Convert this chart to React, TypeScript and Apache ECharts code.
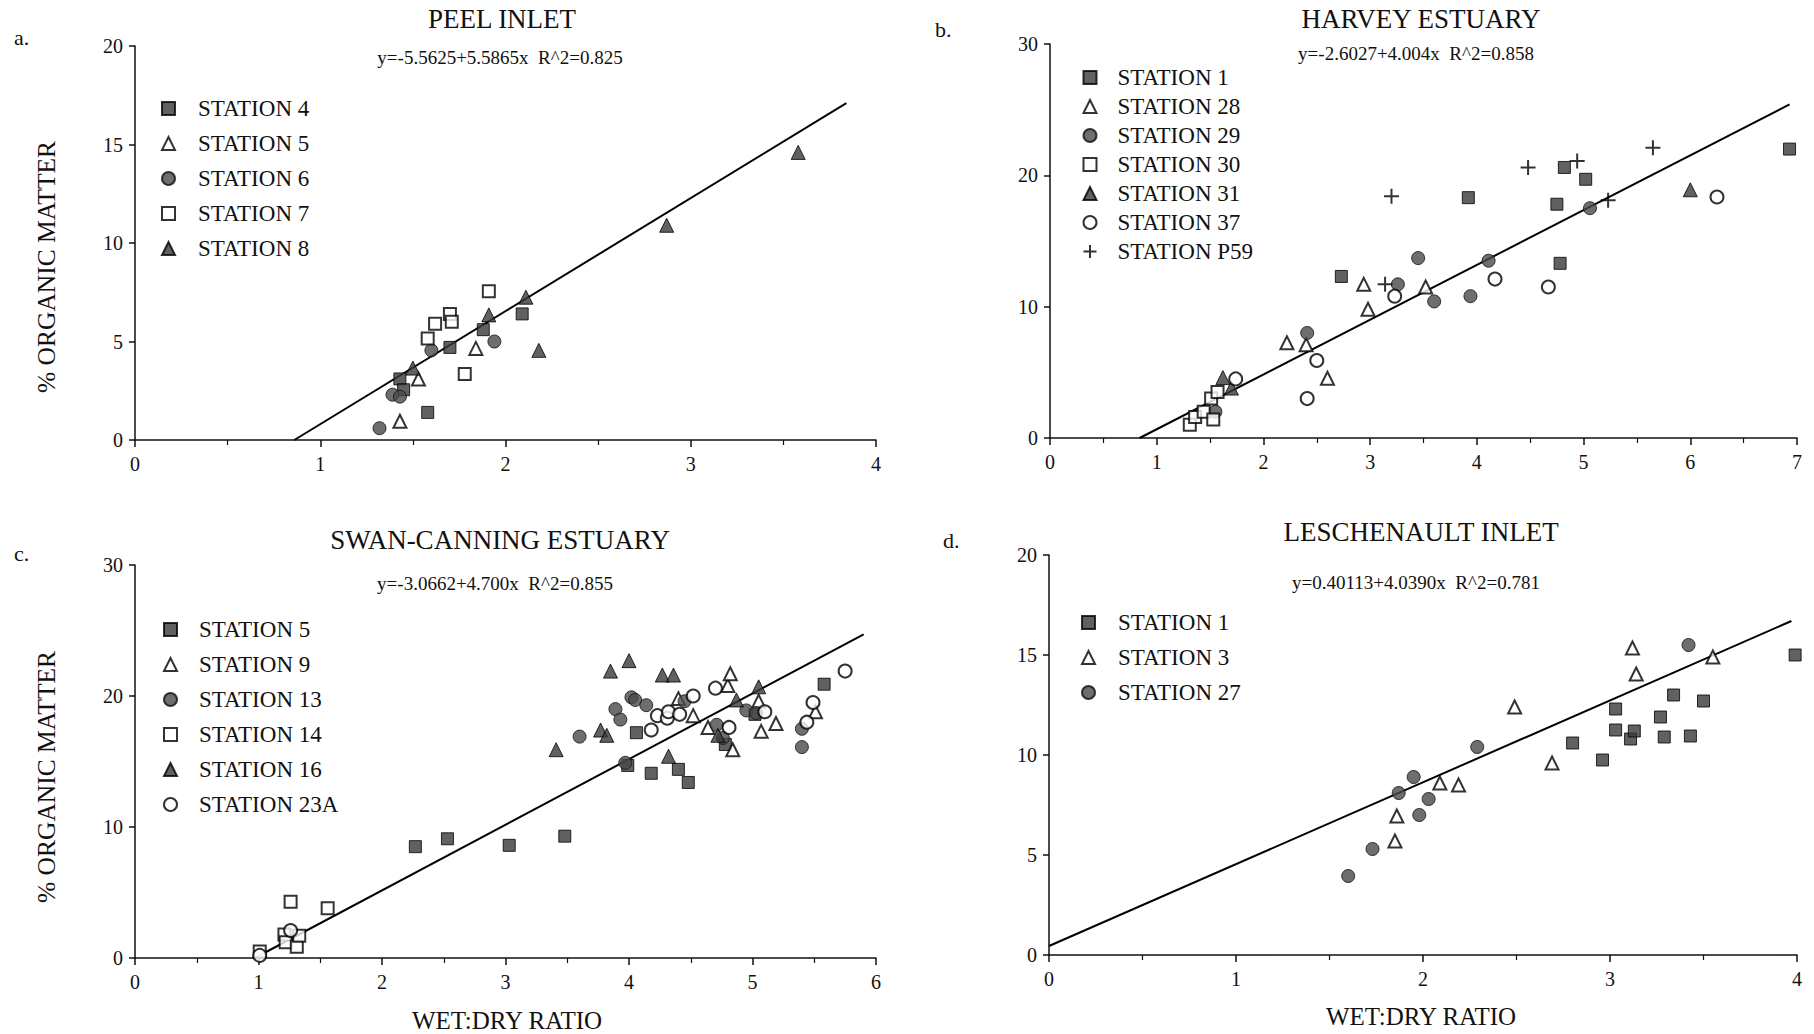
import React, { useEffect, useRef } from 'react';
import * as echarts from 'echarts';

const FONT = '"Liberation Serif", "Times New Roman", serif';

// ---------- Panel a: PEEL INLET ----------
const peelSt4 = [[1.43, 3.1], [1.45, 2.55], [1.58, 1.4], [1.70, 4.7], [1.88, 5.6], [2.09, 6.4]];
const peelSt5 = [[1.43, 0.95], [1.53, 3.1], [1.84, 4.65]];
const peelSt6 = [[1.32, 0.6], [1.39, 2.3], [1.43, 2.2], [1.60, 4.55], [1.94, 5.0]];
const peelSt7 = [[1.58, 5.15], [1.62, 5.9], [1.70, 6.4], [1.71, 6.0], [1.78, 3.35], [1.91, 7.55]];
const peelSt8 = [[1.50, 3.65], [1.91, 6.35], [2.11, 7.25], [2.18, 4.55], [2.87, 10.9], [3.58, 14.6]];
const peelLine = [[0.86, 0], [3.84, 17.1]];

// ---------- Panel b: HARVEY ESTUARY ----------
const harSt1 = [[2.73, 12.3], [3.92, 18.3], [4.75, 17.8], [4.78, 13.3], [4.82, 20.6], [5.02, 19.7], [6.93, 22.0]];
const harSt28 = [[2.22, 7.25], [2.40, 7.1], [2.60, 4.55], [2.94, 11.7], [2.98, 9.8], [3.52, 11.5]];
const harSt29 = [[1.55, 2.0], [2.41, 8.0], [3.26, 11.7], [3.45, 13.7], [3.60, 10.4], [3.94, 10.8], [4.11, 13.5], [5.06, 17.5]];
const harSt30 = [[1.31, 1.0], [1.36, 1.6], [1.44, 2.0], [1.53, 1.4], [1.51, 3.0], [1.57, 3.5]];
const harSt31 = [[1.62, 4.6], [1.70, 3.8], [6.0, 18.9]];
const harSt37 = [[1.74, 4.5], [2.41, 3.0], [2.50, 5.9], [3.23, 10.8], [4.17, 12.1], [4.67, 11.5], [6.25, 18.35]];
const harStP59 = [[3.20, 18.4], [3.14, 11.7], [4.48, 20.6], [4.94, 21.1], [5.23, 18.1], [5.65, 22.1]];
const harLine = [[0.84, 0], [6.93, 25.4]];

// ---------- Panel c: SWAN-CANNING ESTUARY ----------
const swanSt5 = [[2.27, 8.5], [2.53, 9.1], [3.03, 8.6], [3.48, 9.3], [3.99, 14.7], [4.06, 17.2], [4.18, 14.1], [4.40, 14.4], [4.48, 13.4], [4.78, 16.3], [5.02, 18.6], [5.58, 20.9]];
const swanSt9 = [[4.40, 19.8], [4.52, 18.5], [4.64, 17.6], [4.80, 20.8], [4.82, 21.7], [4.84, 15.9], [5.05, 19.6], [5.07, 17.3], [5.19, 17.9], [5.51, 18.8]];
const swanSt13 = [[3.60, 16.9], [3.89, 19.0], [3.93, 18.2], [3.97, 14.9], [4.02, 19.9], [4.05, 19.7], [4.14, 19.3], [4.45, 19.6], [4.71, 17.8], [4.76, 16.8], [4.95, 18.9], [5.03, 18.7], [5.40, 17.5], [5.40, 16.1]];
const swanSt14 = [[1.01, 0.5], [1.21, 1.8], [1.22, 1.2], [1.26, 4.3], [1.31, 0.85], [1.33, 1.7], [1.56, 3.8]];
const swanSt16 = [[3.41, 15.9], [3.77, 17.4], [3.82, 17.0], [3.85, 21.9], [4.00, 22.7], [4.27, 21.6], [4.36, 21.6], [4.32, 15.4], [4.72, 17.0], [4.87, 19.7], [5.05, 20.7]];
const swanSt23A = [[1.01, 0.2], [1.26, 2.1], [4.18, 17.4], [4.23, 18.5], [4.31, 18.3], [4.32, 18.8], [4.41, 18.6], [4.52, 20.0], [4.70, 20.6], [4.81, 17.6], [5.10, 18.8], [5.44, 18.0], [5.49, 19.5], [5.75, 21.9]];
const swanLine = [[0.97, 0], [5.9, 24.7]];

// ---------- Panel d: LESCHENAULT INLET ----------
const lesSt1 = [[2.80, 10.6], [2.96, 9.75], [3.03, 12.3], [3.03, 11.25], [3.11, 10.8], [3.13, 11.2], [3.27, 11.9], [3.29, 10.9], [3.34, 13.0], [3.43, 10.95], [3.50, 12.7], [3.99, 15.0]];
const lesSt3 = [[1.85, 5.7], [1.86, 6.95], [2.09, 8.6], [2.19, 8.5], [2.49, 12.4], [2.69, 9.6], [3.12, 15.35], [3.14, 14.05], [3.55, 14.9]];
const lesSt27 = [[1.60, 3.95], [1.73, 5.3], [1.87, 8.1], [1.95, 8.9], [1.98, 7.0], [2.03, 7.8], [2.29, 10.4], [3.42, 15.5]];
const lesLine = [[0, 0.45], [3.97, 16.7]];

// ---------- Texts ----------
const panelLetters = ['a.', 'b.', 'c.', 'd.'];
const panelTitles = ['PEEL INLET', 'HARVEY ESTUARY', 'SWAN-CANNING ESTUARY', 'LESCHENAULT INLET'];
const equations = [
  'y=-5.5625+5.5865x  R^2=0.825',
  'y=-2.6027+4.004x  R^2=0.858',
  'y=-3.0662+4.700x  R^2=0.855',
  'y=0.40113+4.0390x  R^2=0.781',
];
const yName = '% ORGANIC MATTER';
const xName = 'WET:DRY RATIO';

// marker styles
const DARK = '#3a3a3a';
const filledSquare = { symbol: 'rect', symbolSize: 12, itemStyle: { color: DARK, borderColor: '#000', borderWidth: 1 } };
const openSquare = { symbol: 'rect', symbolSize: 12, itemStyle: { color: '#fff', borderColor: '#000', borderWidth: 2 } };
const filledCircle = { symbol: 'circle', symbolSize: 13, itemStyle: { color: '#4a4a4a', borderColor: '#111', borderWidth: 1 } };
const openCircle = { symbol: 'circle', symbolSize: 13, itemStyle: { color: '#fff', borderColor: '#000', borderWidth: 2 } };
const filledTri = { symbol: 'triangle', symbolSize: 14, itemStyle: { color: DARK, borderColor: '#000', borderWidth: 1 } };
const openTri = { symbol: 'triangle', symbolSize: 13, itemStyle: { color: '#fff', borderColor: '#000', borderWidth: 2 } };
const plusSym = { symbol: 'path://M5 0 L5 10 M0 5 L10 5', symbolSize: 15, itemStyle: { color: 'none', borderColor: '#000', borderWidth: 2 } };

export default function App() {
  const ref = useRef<HTMLDivElement>(null);
  useEffect(() => {
    document.body.style.margin = '0';
    const chart = echarts.init(ref.current!, null, { renderer: 'svg' });

    const grids = [
      { left: 135, top: 46, width: 741, height: 394 },
      { left: 1050, top: 44, width: 747, height: 394 },
      { left: 135, top: 565, width: 741, height: 393 },
      { left: 1049, top: 555, width: 748, height: 400 },
    ];
    const xMax = [4, 7, 6, 4];
    const yMax = [20, 30, 30, 20];
    const yInt = [5, 10, 10, 5];

    const axisCommon = {
      axisLine: { show: true, onZero: false, lineStyle: { color: '#111', width: 1.5 } },
      splitLine: { show: false },
      axisLabel: { fontFamily: FONT, fontSize: 20, color: '#111' },
    };

    const xAxes = grids.map((_, i) => ({
      ...axisCommon,
      type: 'value', gridIndex: i, min: 0, max: xMax[i], interval: 1,
      axisTick: { show: true, length: 7, lineStyle: { color: '#111', width: 1.5 } },
      minorTick: { show: true, splitNumber: 2, length: 5, lineStyle: { color: '#111', width: 1.2 } },
      minorSplitLine: { show: false },
      axisLabel: { ...axisCommon.axisLabel, margin: 14 },
    }));
    const yAxes = grids.map((_, i) => ({
      ...axisCommon,
      type: 'value', gridIndex: i, min: 0, max: yMax[i], interval: yInt[i],
      axisTick: { show: true, length: 6, lineStyle: { color: '#111', width: 1.5 } },
      axisLabel: { ...axisCommon.axisLabel, margin: 12 },
    }));

    const mk = (panel: string, idx: number, name: string, data: number[][], style: any) => ({
      type: 'scatter', name: panel + '|' + name, xAxisIndex: idx, yAxisIndex: idx, data, ...style, z: 3,
    });
    const line = (idx: number, data: number[][]) => ({
      type: 'line', xAxisIndex: idx, yAxisIndex: idx, data, symbol: 'none', z: 2,
      lineStyle: { color: '#000', width: 2 },
    });

    const series = [
      line(0, peelLine), line(1, harLine), line(2, swanLine), line(3, lesLine),
      mk('a', 0, 'STATION 4', peelSt4, filledSquare),
      mk('a', 0, 'STATION 5', peelSt5, openTri),
      mk('a', 0, 'STATION 6', peelSt6, filledCircle),
      mk('a', 0, 'STATION 7', peelSt7, openSquare),
      mk('a', 0, 'STATION 8', peelSt8, filledTri),
      mk('b', 1, 'STATION 1', harSt1, filledSquare),
      mk('b', 1, 'STATION 28', harSt28, openTri),
      mk('b', 1, 'STATION 29', harSt29, filledCircle),
      mk('b', 1, 'STATION 30', harSt30, openSquare),
      mk('b', 1, 'STATION 31', harSt31, filledTri),
      mk('b', 1, 'STATION 37', harSt37, openCircle),
      mk('b', 1, 'STATION P59', harStP59, plusSym),
      mk('c', 2, 'STATION 5', swanSt5, filledSquare),
      mk('c', 2, 'STATION 9', swanSt9, openTri),
      mk('c', 2, 'STATION 13', swanSt13, filledCircle),
      mk('c', 2, 'STATION 14', swanSt14, openSquare),
      mk('c', 2, 'STATION 16', swanSt16, filledTri),
      mk('c', 2, 'STATION 23A', swanSt23A, openCircle),
      mk('d', 3, 'STATION 1', lesSt1, filledSquare),
      mk('d', 3, 'STATION 3', lesSt3, openTri),
      mk('d', 3, 'STATION 27', lesSt27, filledCircle),
    ];

    const legendFor = (panel: string, left: number, top: number, gap: number, pad: number) => ({
      orient: 'vertical', left, top, itemGap: gap, itemWidth: 13, itemHeight: 13,
      selectedMode: false,
      data: series.filter((s: any) => s.name && s.name.startsWith(panel + '|')).map((s: any) => s.name),
      formatter: (n: string) => n.split('|')[1],
      textStyle: { fontFamily: FONT, fontSize: 23, color: '#111', padding: [0, 0, 0, pad] },
    });

    const centers = [
      [502, 19], [1421, 19], [500, 540], [1421, 532],
    ];
    const eqPos = [[500, 57], [1416, 53], [495, 583], [1416, 582]];
    const letterPos = [[14, 37], [935, 29], [14, 553], [943, 540]];

    const graphic: any[] = [];
    panelTitles.forEach((t, i) => graphic.push({
      type: 'text', x: centers[i][0], y: centers[i][1],
      style: { text: t, fontFamily: FONT, fontSize: 27, fill: '#111', textAlign: 'center', textVerticalAlign: 'middle' },
    }));
    equations.forEach((t, i) => graphic.push({
      type: 'text', x: eqPos[i][0], y: eqPos[i][1],
      style: { text: t, fontFamily: FONT, fontSize: 19, fill: '#111', textAlign: 'center', textVerticalAlign: 'middle' },
    }));
    panelLetters.forEach((t, i) => graphic.push({
      type: 'text', x: letterPos[i][0], y: letterPos[i][1],
      style: { text: t, fontFamily: FONT, fontSize: 22, fill: '#111', textAlign: 'left', textVerticalAlign: 'middle' },
    }));
    [[46, 267], [46, 777]].forEach(([x, y]) => graphic.push({
      type: 'text', x, y, rotation: Math.PI / 2,
      style: { text: yName, fontFamily: FONT, fontSize: 25.5, fill: '#111', textAlign: 'center', textVerticalAlign: 'middle' },
    }));
    [[507, 1020], [1421, 1016]].forEach(([x, y]) => graphic.push({
      type: 'text', x, y,
      style: { text: xName, fontFamily: FONT, fontSize: 25, fill: '#111', textAlign: 'center', textVerticalAlign: 'middle' },
    }));

    chart.setOption({
      animation: false,
      backgroundColor: '#fff',
      grid: grids,
      xAxis: xAxes,
      yAxis: yAxes,
      legend: [
        legendFor('a', 156, 92, 12, 18),
        legendFor('b', 1076, 61, 6, 16),
        legendFor('c', 158, 613, 12, 17),
        legendFor('d', 1076, 606, 12, 18),
      ],
      graphic,
      series,
    });
    return () => chart.dispose();
  }, []);
  return <div ref={ref} style={{ width: 1814, height: 1034 }} />;
}
